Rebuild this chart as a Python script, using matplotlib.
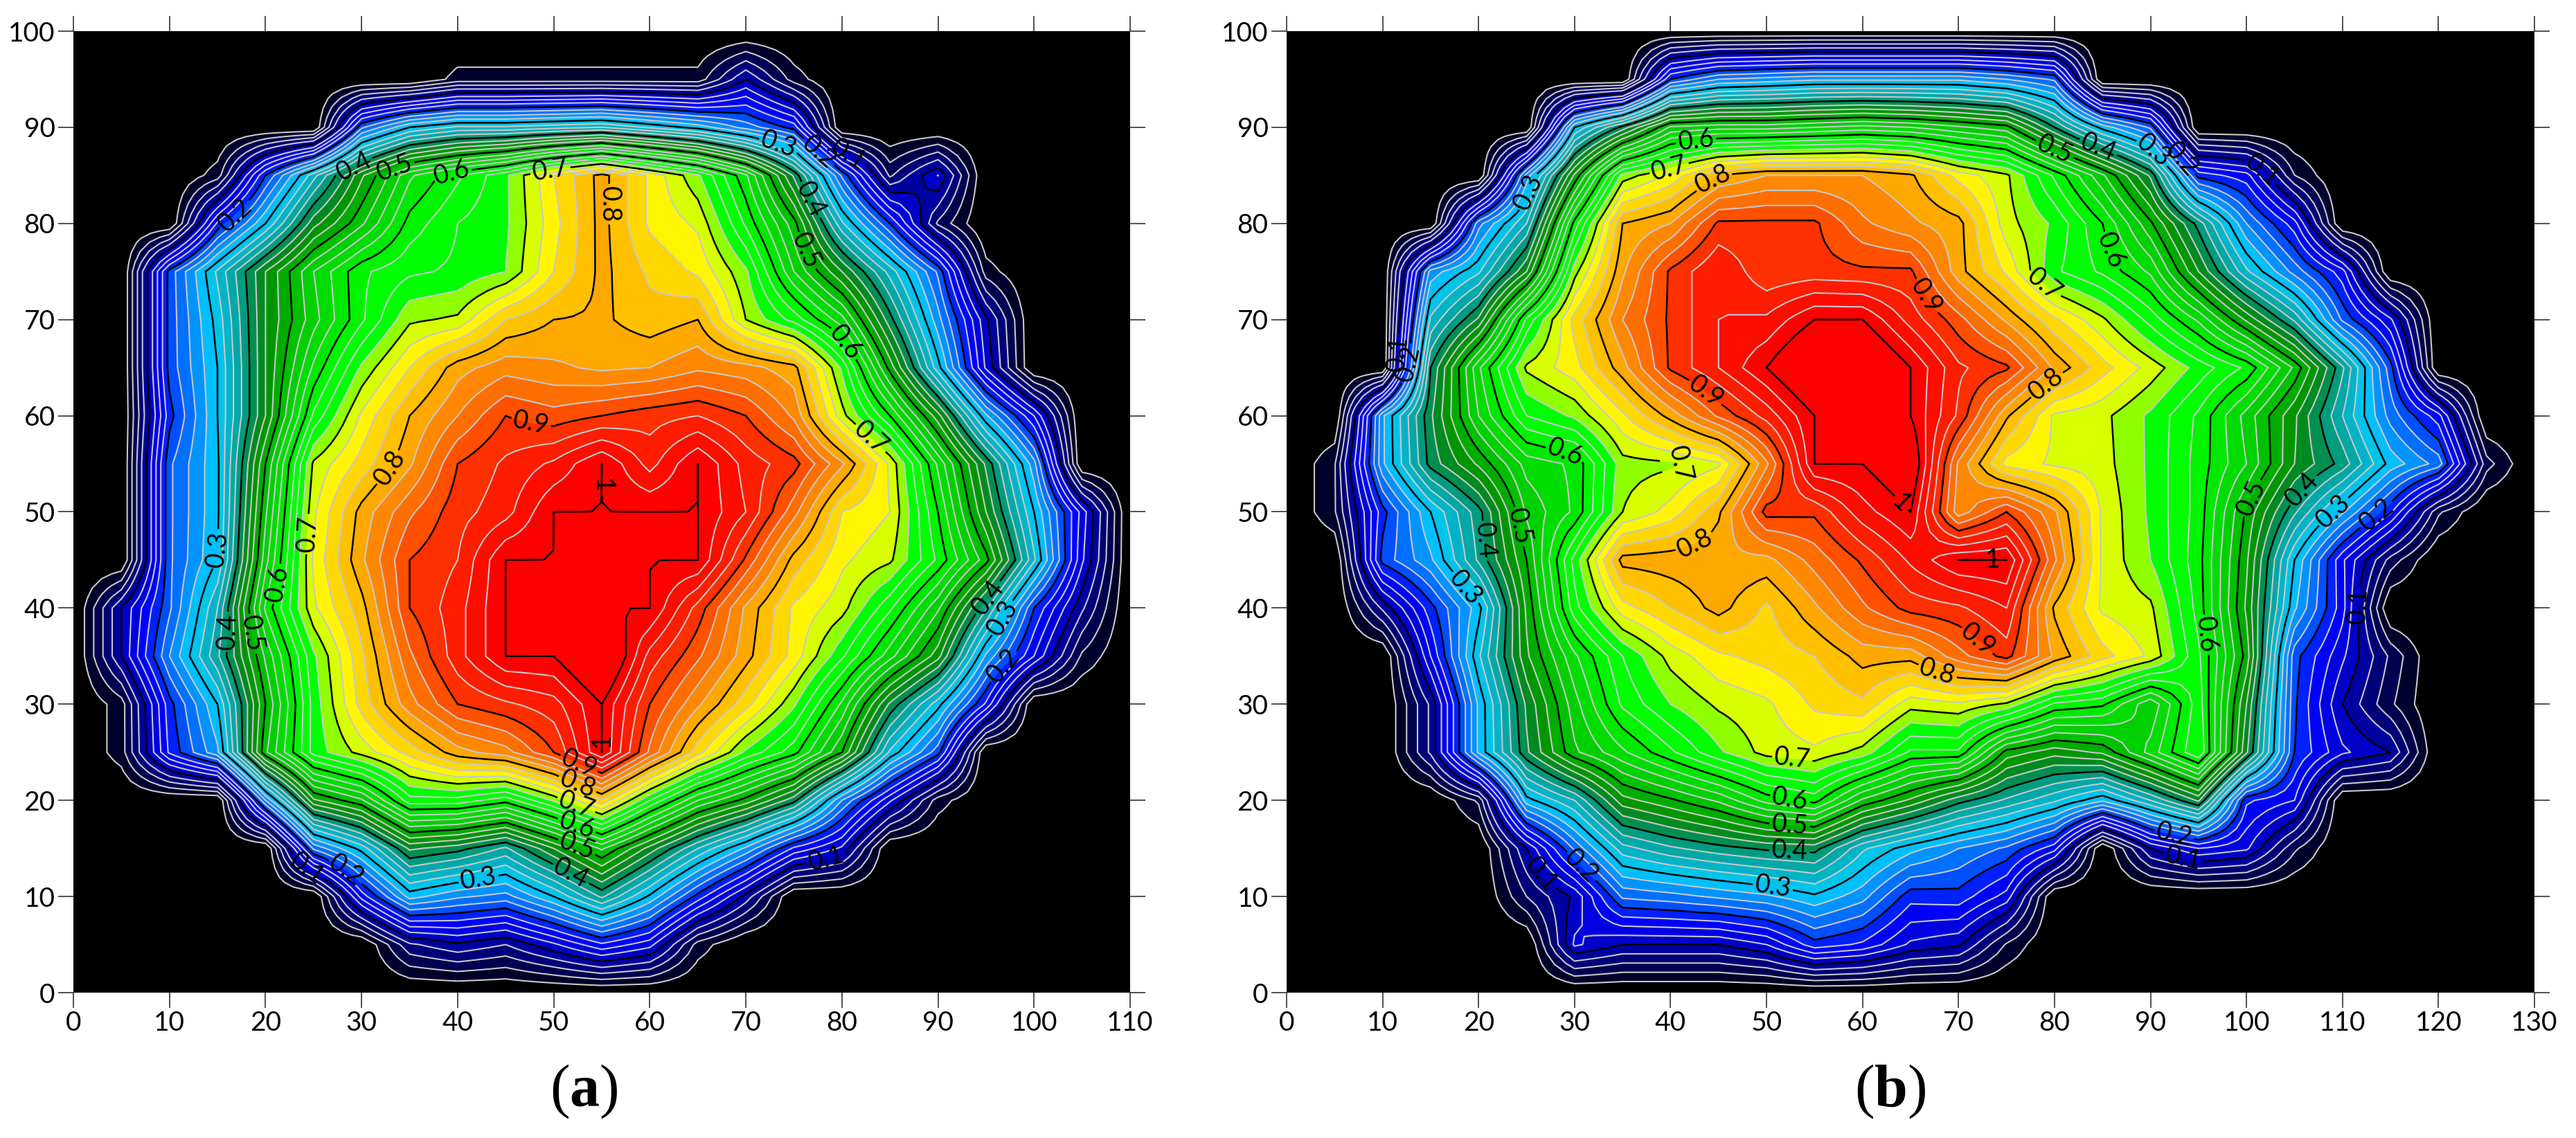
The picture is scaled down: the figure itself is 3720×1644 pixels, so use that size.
import numpy as np
import matplotlib
matplotlib.use("Agg")
import matplotlib.pyplot as plt

plt.rcParams.update({'mathtext.fontset': 'custom', 'mathtext.rm': 'Liberation Serif',
                     'mathtext.bf': 'Liberation Serif:bold', 'font.family': ['Lato', 'DejaVu Sans']})

N = -0.03
y_rows = list(range(100, -1, -5))
x_a = list(range(0, 111, 5))
x_b = list(range(0, 131, 5))

z_a = [
 [N]*23,
 [N,N,N,N,N,N,N,N,.01,.01,.01,.01,.01,.01,.10,.013,N,N,N,N,N,N,N],
 [N,N,N,N,N,N,.22,.30,.33,.33,.34,.35,.32,.29,.24,.19,N,N,N,N,N,N,N],
 [N,N,N,.012,.20,.34,.47,.57,.62,.67,.75,.81,.745,.68,.58,.42,.22,.045,.126,N,N,N,N],
 [N,N,N,.18,.30,.44,.52,.61,.65,.67,.74,.81,.745,.72,.62,.51,.33,.20,.045,N,N,N,N],
 [N,N,.21,.33,.45,.55,.62,.645,.655,.675,.75,.808,.77,.745,.68,.55,.45,.34,.22,.012,N,N,N],
 [N,N,.21,.31,.45,.54,.62,.695,.705,.775,.80,.805,.785,.80,.70,.64,.56,.41,.26,.106,N,N,N],
 [N,N,.21,.30,.45,.58,.68,.75,.815,.84,.83,.82,.825,.845,.835,.81,.67,.49,.31,.12,N,N,N],
 [N,N,.19,.30,.45,.63,.73,.80,.85,.90,.885,.90,.915,.925,.90,.845,.71,.60,.46,.28,.15,N,N],
 [N,N,.22,.295,.50,.705,.76,.82,.90,.93,.955,1,.94,1,.94,.91,.83,.72,.57,.42,.26,N,N],
 [N,N,.22,.295,.52,.72,.81,.87,.915,.94,1,1,1,1,.95,.86,.75,.725,.60,.45,.30,.14,N],
 [N,N,.22,.30,.54,.73,.82,.90,.925,1,1,1,1,1,.895,.79,.73,.705,.62,.51,.33,.13,N],
 [N,.10,.22,.35,.58,.72,.79,.90,.94,1,1,1,1,.915,.82,.745,.71,.63,.53,.38,.20,.08,N],
 [N,.10,.25,.37,.53,.67,.77,.87,.94,1,1,1.06,.94,.88,.81,.74,.655,.56,.46,.27,.15,.02,N],
 [N,.013,.19,.30,.50,.66,.76,.84,.90,.92,.94,1,.90,.83,.76,.68,.57,.42,.31,.17,N,N,N],
 [N,.013,.18,.27,.52,.66,.71,.76,.815,.84,.90,1,.87,.76,.67,.61,.50,.32,.21,N,N,N,N],
 [N,N,N,N,.25,.47,.52,.64,.64,.61,.68,.77,.65,.55,.49,.41,.25,.13,.012,N,N,N,N],
 [N,N,N,N,N,.23,.31,.43,.41,.37,.45,.53,.44,.35,.27,.17,.12,N,N,N,N,N,N],
 [N,N,N,N,N,N,.16,.285,.255,.24,.30,.38,.295,.19,.09,N,N,N,N,N,N,N,N],
 [N,N,N,N,N,N,N,.07,.095,.075,.12,.17,.135,.014,N,N,N,N,N,N,N,N,N],
 [N]*23,
]

z_b = [
 [N]*27,
 [N,N,N,N,N,N,N,N,.20,.25,.26,.27,.27,.27,.27,.25,.22,N,N,N,N,N,N,N,N,N,N],
 [N,N,N,N,N,N,.30,.41,.53,.54,.54,.55,.56,.55,.53,.51,.40,.29,.22,N,N,N,N,N,N,N,N],
 [N,N,N,N,N,.26,.48,.685,.73,.80,.825,.825,.825,.805,.74,.705,.62,.53,.42,.19,.16,.0255,N,N,N,N,N],
 [N,N,N,N,.24,.35,.61,.80,.825,.905,.905,.905,.855,.83,.81,.71,.67,.60,.505,.39,.25,.16,N,N,N,N,N],
 [N,N,N,.26,.32,.45,.69,.82,.905,.95,.905,.91,.905,.905,.81,.745,.655,.62,.57,.45,.33,.24,.16,N,N,N,N],
 [N,N,N,.33,.43,.63,.76,.85,.905,.95,.955,1,1,.94,.885,.82,.755,.705,.64,.57,.47,.37,.22,.13,N,N,N],
 [N,N,N,.40,.57,.705,.74,.815,.905,.95,1,1.06,1.06,1,.93,.905,.82,.76,.715,.665,.62,.52,.38,.21,N,N,N],
 [N,N,.27,.42,.55,.65,.68,.745,.81,.88,.935,1,1.02,1,.92,.805,.72,.707,.67,.62,.54,.455,.35,.24,.16,N,N],
 [N,.022,.27,.41,.48,.56,.58,.69,.695,.72,.845,1,1,1.035,.845,.74,.72,.71,.67,.615,.55,.45,.39,.29,.24,.036,N],
 [N,.022,.19,.30,.39,.53,.58,.70,.735,.795,.91,.905,.965,1,.835,.90,.83,.72,.67,.615,.495,.38,.28,.18,.03,N,N],
 [N,N,.21,.27,.38,.50,.66,.81,.815,.82,.817,.86,.905,.955,1,1,.855,.72,.675,.61,.48,.30,.155,.04,N,N,N],
 [N,N,.08,.19,.29,.48,.64,.74,.775,.81,.77,.82,.87,.91,.92,.95,.795,.72,.705,.615,.47,.28,.16,N,N,N,N],
 [N,N,N,.15,.32,.47,.57,.65,.71,.745,.76,.775,.81,.81,.865,.91,.82,.76,.72,.63,.49,.21,.13,.045,N,N,N],
 [N,N,N,.08,.28,.43,.54,.63,.675,.705,.72,.755,.77,.71,.72,.695,.62,.605,.53,.64,.45,.205,.10,.03,N,N,N],
 [N,N,N,.08,.28,.42,.52,.57,.62,.67,.71,.72,.69,.62,.62,.49,.46,.48,.56,.65,.43,.20,.13,.10,N,N,N],
 [N,N,N,N,.03,.29,.35,.465,.495,.53,.585,.61,.52,.47,.41,.37,.33,.28,.35,.43,.18,.15,N,N,N,N,N],
 [N,N,N,N,N,.10,.23,.34,.37,.39,.405,.41,.33,.285,.25,.22,.16,N,.10,.15,.13,.03,N,N,N,N,N],
 [N,N,N,N,N,.05,.105,.23,.24,.255,.27,.295,.26,.185,.19,.14,N,N,N,N,N,N,N,N,N,N,N],
 [N,N,N,N,N,N,.13,.10,.10,.10,.125,.19,.17,.12,.105,.022,N,N,N,N,N,N,N,N,N,N,N],
 [N]*27,
]

band_colors = [
 '#00002A','#000050','#000078','#0000A0','#0000C8','#0000E0','#0000FF','#0020FF',
 '#0050FF','#0070FF','#0094FF','#00BFFF','#00C4E8','#00B4C8','#00A8A8','#009C80',
 '#008F50','#008A20','#009600','#00AC00','#00C000','#00D000','#00DC00','#00E800',
 '#00F400','#00FF00','#00FF00','#90FF00','#D8FF00','#FFF500','#FFD800','#FFC000',
 '#FFA800','#FF8800','#FF6E00','#FF5000','#FF3000','#FF1C00','#FF0C00','#FF0000',
]
fill_levels = [round(i * 0.025, 3) for i in range(40)] + [1.2]
gray_levels = [round(i * 0.025, 3) for i in range(40) if i % 4 != 0 or i == 0]
black_levels = [0.1, 0.2, 0.3, 0.4, 0.5, 0.6, 0.7, 0.8, 0.9, 0.9999]

labels_a = [(16.3,81.5),(29.4,85.6),(33.6,85.4),(39.4,85.2),(49.7,85.2),(55.7,82),(47.6,59),(57,52.7),
            (32.4,55),(24.2,47.7),(15.2,46.1),(21.3,42.5),(16.5,37.5),(18.5,37.3),(24.2,12.7),(27.9,12),
            (42.2,11.6),(51.6,12),(52.3,14.9),(52.3,17.1),(52.3,19.4),(52.2,21),(52.5,23.5),(55,26.3),
            (73.3,87.9),(77.7,87.5),(80.6,86.9),(76.8,82.5),(76.4,77.2),(80,67.4),(83,57.7),
            (95.3,41),(97.2,38.7),(97,33.8),(78.5,13.3)]
labels_b = [(25.4,83.2),(42.7,88.3),(39.7,86.3),(44.5,84.5),(43.6,62.4),(29.1,56.4),(41.1,55.6),(63.9,50.8),
            (24.3,48.5),(20.8,47),(12.8,65.4),(11.2,66.5),(18.6,42.1),(42.8,46.1),(30.6,13),(27.5,13),
            (50.7,11.3),(52.4,14.7),(52.4,17.3),(52.4,19.9),(52.6,23.5),(79.9,87.5),(84.5,87.8),(90,87.3),
            (93.5,86.9),(102,86),(66.6,72.4),(86.8,77.5),(79,73.7),(79.4,63),(100.8,51.3),(106.4,51.8),
            (109.1,50),(113.5,49.8),(73.6,44.6),(96.3,37.3),(72,36.7),(67.6,32.8),(92.5,16.4),(93.4,14),(112,40.2)]

W, H = 3720, 1644
fig = plt.figure(figsize=(W / 100, H / 100), dpi=100, facecolor='white')


def bilinear(X, Y, Z, step=1.0):
    # the surface between the read grid nodes is bilinear, sampled coarsely for angular contours
    xf = np.arange(X[0], X[-1] + step / 2, step)
    yf = np.arange(Y[-1], Y[0] + step / 2, step)
    Zasc = Z[::-1]
    by_x = np.array([np.interp(xf, X, row) for row in Zasc])
    fine = np.array([np.interp(yf, Y[::-1], by_x[:, j]) for j in range(len(xf))]).T
    return xf, yf, fine


def panel(x_px, xs, z, xmax, lab_pts, tag, tag_x):
    ax = fig.add_axes([x_px[0] / W, 1 - 1434 / H, (x_px[1] - x_px[0]) / W, (1434 - 45) / H])
    ax.set_facecolor('black')
    xf, yf, Zf = bilinear(np.array(xs, dtype=float), np.array(y_rows, dtype=float), np.array(z, dtype=float))
    ax.contourf(xf, yf, Zf, levels=fill_levels, colors=band_colors, antialiased=False)
    ax.contour(xf, yf, Zf, levels=gray_levels, colors='#C8C8C8', linewidths=1.5)
    cs = ax.contour(xf, yf, Zf, levels=black_levels, colors='black', linewidths=1.8)
    ax.clabel(cs, manual=lab_pts, inline=True, inline_spacing=3, fontsize=27,
              fmt=lambda v: '1' if v > 0.99 else f'{v:.1f}')
    ax.set_xlim(0, xmax)
    ax.set_ylim(0, 100)
    ax.set_xticks(range(0, xmax + 1, 10))
    ax.set_yticks(range(0, 101, 10))
    ax.tick_params(direction='out', length=16, width=1.1, color='#202020', labelsize=28, pad=3,
                   top=True, right=True, labeltop=False, labelright=False)
    for s in ax.spines.values():
        s.set_visible(False)
    fig.text(tag_x / W, 1 - 1577 / H, tag, fontsize=62, family='Liberation Serif', ha='center', va='center')


panel((106, 1632), x_a, z_a, 110, labels_a, r'($\mathbf{a}$)', 843)
panel((1858, 3660), x_b, z_b, 130, labels_b, r'($\mathbf{b}$)', 2730)
fig.savefig('out.png', dpi=100)
